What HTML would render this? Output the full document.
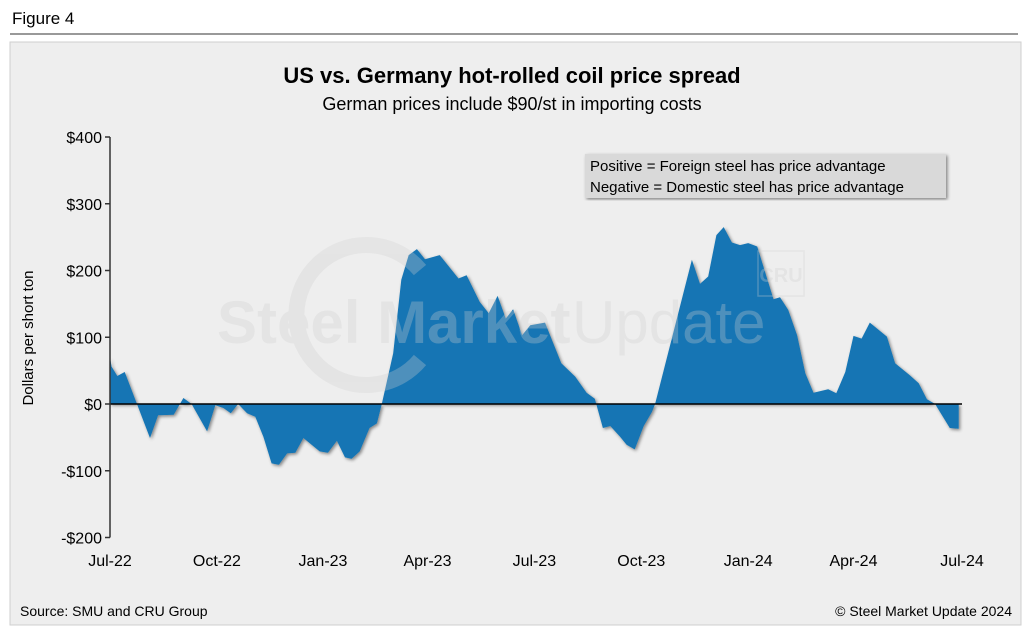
<!DOCTYPE html>
<html><head><meta charset="utf-8"><style>
body{margin:0;background:#fff;width:1024px;height:633px;overflow:hidden;font-family:"Liberation Sans",sans-serif;}
</style></head><body>
<svg width="1024" height="633" style="position:absolute;left:0;top:0">
<defs><filter id="sh" x="-5%" y="-5%" width="110%" height="110%"><feDropShadow dx="1.5" dy="1.5" stdDeviation="1.5" flood-color="#000" flood-opacity="0.45"/></filter></defs>
<text x="12" y="24" font-size="17" fill="#000">Figure 4</text>
<line x1="10" y1="34" x2="1018" y2="34" stroke="#333" stroke-width="1"/>
<rect x="10" y="42" width="1011" height="583" fill="#eeeeee" stroke="#cfcfcf"/>
<text x="512" y="83" font-size="22" font-weight="bold" text-anchor="middle">US vs. Germany hot-rolled coil price spread</text>
<text x="512" y="110" font-size="18" text-anchor="middle">German prices include $90/st in importing costs</text>
<g id="plot"></g>
<g opacity="0.3">
<path d="M 420 270 A 70 70 0 1 0 420 360" fill="none" stroke="#cfcfcf" stroke-width="16"/>
<text x="217" y="343" font-size="60" font-weight="bold" fill="#cfcfcf">Steel Market</text>
<text x="572" y="343" font-size="60" fill="#cfcfcf">Update</text>
<rect x="758" y="251" width="46" height="45" fill="none" stroke="#cfcfcf" stroke-width="1.5"/>
<text x="781" y="282" font-size="20" font-weight="bold" text-anchor="middle" fill="#cfcfcf">CRU</text>
</g>
<text transform="translate(33,338) rotate(-90)" font-size="15" text-anchor="middle">Dollars per short ton</text>
<g>
<rect x="585" y="154" width="361" height="44" fill="#d9d9d9" filter="url(#sh)"/>
<text x="590" y="171" font-size="15">Positive = Foreign steel has price advantage</text>
<text x="590" y="192" font-size="15">Negative = Domestic steel has price advantage</text>
</g>
<text x="20" y="616" font-size="14">Source: SMU and CRU Group</text>
<text x="1012" y="616" font-size="14" text-anchor="end">© Steel Market Update 2024</text>
</svg>
<script>
const weeks=[0,0.2,0.9,1.8,4.9,5.9,7.8,9.0,10.0,11.9,12.9,13.9,14.8,15.7,16.8,17.8,18.8,19.8,20.7,21.7,22.7,23.7,25.7,26.7,27.8,28.8,29.6,30.6,31.8,32.7,33.3,34.7,35.7,36.6,37.6,38.6,40.4,42.7,43.7,45.3,46.4,47.5,48.5,49.4,50.5,51.5,53.3,55.3,57.0,58.4,59.4,60.4,61.3,62.5,63.3,64.3,65.4,66.4,66.8,71.3,72.3,73.3,74.3,75.2,76.2,77.2,78.2,79.3,81.3,82.1,83.1,84.2,85.2,86.2,88.0,89.0,90.1,91.1,92.1,93.1,95.2,96.2,98.0,99.1,100.1,101.1,102.9,104.0];
const values=[70,56,42,48,-51,-17,-16,9,0,-41,-2,-6,-14,0,-14,-19,-49,-89,-91,-74,-73,-51,-71,-73,-55,-80,-82,-71,-36,-29,0,76,186,223,232,217,223,188,193,153,136,162,128,142,103,118,122,61,41,17,8,-36,-33,-49,-61,-68,-33,-12,0,216,180,191,253,265,242,238,241,236,157,160,141,103,46,17,22,16,48,102,98,122,101,61,43,31,7,0,-36,-37];
const yTicks=[400,300,200,100,0,-100,-200];
const yTickLabels=["$400","$300","$200","$100","$0","-$100","-$200"];
const xTickWeeks=[0,13.1,26.1,38.9,52,65.1,78.2,91.1,104.4];
const xTickLabels=["Jul-22","Oct-22","Jan-23","Apr-23","Jul-23","Oct-23","Jan-24","Apr-24","Jul-24"];
const X0=110,X1=962,Y0=404,PPU=0.6675,WMAX=104.4;
const xs=w=>X0+(X1-X0)*w/WMAX;
const ys=v=>Y0-v*PPU;
const NS="http://www.w3.org/2000/svg";
const g=document.getElementById('plot');
function mk(t,a){const e=document.createElementNS(NS,t);for(const k in a)e.setAttribute(k,a[k]);g.appendChild(e);return e;}
let d="M"+xs(weeks[0])+","+ys(0);
weeks.forEach((w,i)=>{d+=" L"+xs(w).toFixed(1)+","+ys(values[i]).toFixed(1);});
d+=" L"+xs(weeks[weeks.length-1])+","+ys(0)+" Z";
const area=mk('path',{d:d,fill:'#1274b4',filter:'url(#sh)'});


const zl=mk('line',{x1:X0,x2:X1,y1:ys(0),y2:ys(0),stroke:'#000','stroke-width':1.5});


const ax=mk('line',{x1:X0,x2:X0,y1:ys(400),y2:ys(-200),stroke:'#333','stroke-width':1.5});


yTicks.forEach((v,i)=>{
 mk('line',{x1:X0-5,x2:X0,y1:ys(v),y2:ys(v),stroke:'#333','stroke-width':1.5});
 const t=mk('text',{x:X0-8,y:ys(v)+6,'font-size':16,'text-anchor':'end'});
 t.textContent=yTickLabels[i];
 
 
});
xTickWeeks.forEach((w,i)=>{
 const t=mk('text',{x:xs(w),y:566,'font-size':16,'text-anchor':'middle'});
 t.textContent=xTickLabels[i];
 
 
});
</script>
</body></html>
